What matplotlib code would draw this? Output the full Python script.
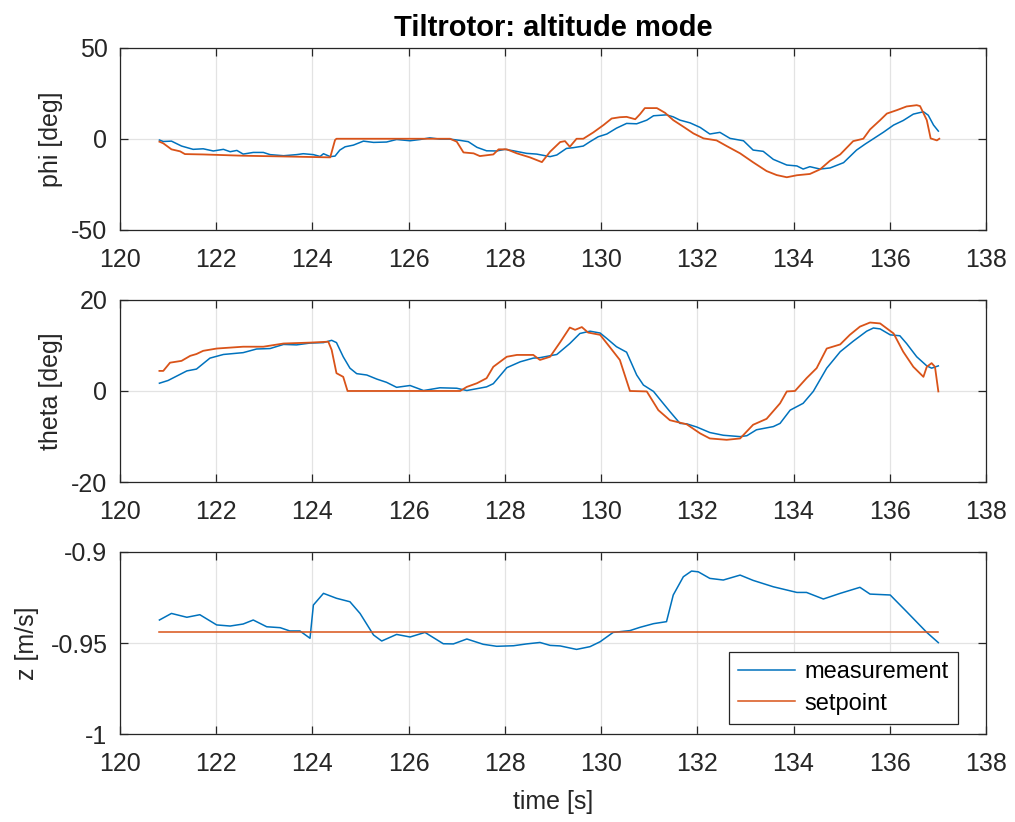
import numpy as np
import matplotlib
matplotlib.use("Agg")
import matplotlib.pyplot as plt

plt.rcParams['font.family'] = ['Liberation Sans', 'DejaVu Sans']
plt.rcParams['axes.unicode_minus'] = False

# roll angle
t_phi_meas = [120.82, 120.90, 121.07, 121.28, 121.52, 121.73, 121.94, 122.15, 122.29, 122.43,
              122.56, 122.77, 122.98, 123.12, 123.40, 123.67, 123.81, 124.02, 124.16, 124.23,
              124.37, 124.47, 124.57, 124.68, 124.85, 125.06, 125.27, 125.54, 125.75, 126.03,
              126.24, 126.44, 126.65, 126.86, 127.07, 127.24, 127.42, 127.62, 127.83, 128.00,
              128.18, 128.45, 128.66, 128.80, 128.94, 129.08, 129.28, 129.42, 129.63, 129.77,
              129.94, 130.12, 130.32, 130.53, 130.74, 130.95, 131.09, 131.36, 131.50, 131.64,
              131.85, 132.06, 132.26, 132.47, 132.68, 132.96, 133.16, 133.37, 133.58, 133.86,
              134.07, 134.20, 134.34, 134.55, 134.76, 135.04, 135.31, 135.49, 135.66, 135.87,
              136.08, 136.28, 136.49, 136.70, 136.80, 136.91, 137.01]
phi_meas = [-0.7, -1.5, -1.3, -4.0, -5.8, -5.5, -6.7, -5.8, -7.1, -6.4,
            -8.4, -7.5, -7.5, -8.7, -9.3, -8.7, -8.2, -8.7, -9.7, -8.2,
            -9.8, -9.5, -6.2, -4.4, -3.5, -1.3, -2.0, -1.8, -0.4, -1.1,
            -0.4, 0.5, -0.2, -0.2, -0.9, -1.6, -4.7, -6.6, -6.7, -5.8,
            -6.6, -8.0, -8.4, -9.1, -9.8, -8.9, -5.3, -4.9, -4.0, -1.6,
            1.1, 2.6, 5.8, 8.4, 8.2, 10.2, 12.6, 13.1, 12.0, 10.2,
            8.7, 6.2, 2.6, 3.5, 0.2, -1.1, -6.2, -6.9, -11.3, -14.4,
            -14.9, -16.6, -15.3, -16.6, -16.0, -13.1, -6.2, -2.9, 0.0, 3.6,
            7.5, 10.0, 13.5, 14.8, 12.9, 7.5, 4.2]
t_phi_sp = [120.82, 120.90, 121.07, 121.25, 121.35, 121.73, 122.56, 123.60, 124.37, 124.47,
            124.50, 126.86, 127.00, 127.14, 127.35, 127.48, 127.76, 127.87, 128.04, 128.25,
            128.52, 128.77, 128.94, 129.15, 129.25, 129.35, 129.49, 129.63, 129.84, 130.05,
            130.22, 130.39, 130.53, 130.71, 130.81, 130.91, 131.16, 131.33, 131.50, 131.71,
            131.92, 132.13, 132.40, 132.61, 132.89, 133.16, 133.44, 133.65, 133.86, 134.07,
            134.34, 134.55, 134.76, 134.97, 135.24, 135.45, 135.59, 135.80, 135.94, 136.15,
            136.35, 136.56, 136.63, 136.77, 136.85, 136.98, 137.03]
phi_sp = [-1.6, -2.5, -5.8, -6.9, -8.4, -8.6, -9.3, -9.8, -10.2, -0.7,
          0.0, 0.0, -1.6, -7.5, -8.0, -9.5, -8.6, -5.8, -5.8, -8.0,
          -10.2, -12.8, -7.1, -1.8, -1.3, -4.4, 0.0, 0.0, 3.5, 7.5,
          11.1, 11.8, 12.0, 10.7, 13.5, 16.8, 16.8, 14.2, 10.2, 6.6,
          2.9, 0.2, -0.9, -4.0, -8.0, -12.9, -17.7, -19.9, -21.1, -20.0,
          -19.3, -16.8, -12.0, -8.6, -1.3, 0.0, 5.1, 10.2, 13.8, 15.7,
          17.7, 18.4, 17.9, 10.2, 0.2, -0.9, 0.0]

# pitch angle
t_theta_meas = [120.82, 121.00, 121.39, 121.59, 121.87, 122.15, 122.56, 122.84, 123.12, 123.40,
                123.67, 123.95, 124.23, 124.40, 124.50, 124.64, 124.78, 124.92, 125.13, 125.34,
                125.54, 125.75, 126.03, 126.31, 126.65, 127.00, 127.21, 127.62, 127.76, 128.04,
                128.32, 128.59, 128.73, 129.08, 129.35, 129.56, 129.77, 129.98, 130.12, 130.32,
                130.53, 130.74, 130.88, 131.09, 131.22, 131.43, 131.64, 131.78, 131.99, 132.26,
                132.54, 132.89, 133.03, 133.23, 133.58, 133.72, 133.93, 134.20, 134.41, 134.69,
                134.97, 135.24, 135.52, 135.66, 135.80, 136.01, 136.21, 136.35, 136.56, 136.77,
                136.87, 137.01]
theta_meas = [1.7, 2.3, 4.4, 4.8, 7.2, 8.0, 8.4, 9.2, 9.3, 10.2,
              10.1, 10.5, 10.6, 11.1, 10.6, 7.5, 5.0, 3.8, 3.5, 2.6,
              1.9, 0.8, 1.2, 0.1, 0.7, 0.6, 0.1, 0.9, 1.6, 5.1,
              6.4, 7.2, 7.3, 8.0, 10.4, 12.6, 13.1, 12.7, 11.5, 9.7,
              8.5, 3.5, 1.3, -0.1, -1.8, -4.5, -7.1, -7.2, -7.9, -9.1,
              -9.7, -10.0, -9.8, -8.5, -7.8, -7.1, -4.2, -2.7, -0.1, 5.0,
              8.6, 10.9, 13.1, 13.8, 13.6, 12.3, 12.1, 10.4, 7.5, 5.5,
              5.0, 5.5]
t_theta_sp = [120.82, 120.90, 121.04, 121.28, 121.46, 121.59, 121.73, 122.01, 122.56, 122.98,
              123.40, 123.95, 124.33, 124.40, 124.50, 124.64, 124.73, 127.07, 127.21, 127.42,
              127.62, 127.76, 128.04, 128.25, 128.59, 128.73, 128.94, 129.15, 129.35, 129.46,
              129.60, 129.73, 129.98, 130.19, 130.39, 130.60, 130.95, 131.19, 131.43, 131.78,
              132.06, 132.26, 132.61, 132.89, 133.16, 133.44, 133.72, 133.86, 134.03, 134.27,
              134.48, 134.69, 134.97, 135.17, 135.38, 135.59, 135.80, 136.08, 136.28, 136.49,
              136.70, 136.77, 136.87, 136.94, 137.01]
theta_sp = [4.4, 4.4, 6.2, 6.6, 7.7, 8.1, 8.8, 9.3, 9.7, 9.7,
            10.4, 10.6, 10.8, 9.0, 3.9, 3.1, 0.0, 0.0, 0.9, 1.7,
            2.8, 5.3, 7.5, 7.9, 7.9, 6.8, 7.5, 10.7, 13.9, 13.4,
            14.0, 12.8, 12.3, 9.5, 6.8, 0.0, -0.1, -4.2, -6.4, -7.3,
            -9.3, -10.4, -10.7, -10.4, -7.4, -6.1, -2.7, -0.1, 0.0, 2.8,
            5.0, 9.3, 10.2, 12.3, 14.1, 15.0, 14.8, 12.6, 8.6, 5.3,
            3.1, 5.3, 6.1, 5.3, -0.1]

# altitude
t_z_meas = [120.82, 121.07, 121.39, 121.66, 122.01, 122.29, 122.56, 122.77, 123.05, 123.33,
            123.53, 123.74, 123.95, 124.02, 124.23, 124.50, 124.78, 124.99, 125.27, 125.44,
            125.75, 126.03, 126.34, 126.72, 126.93, 127.21, 127.55, 127.83, 128.18, 128.45,
            128.73, 128.94, 129.15, 129.49, 129.77, 129.98, 130.25, 130.60, 130.81, 131.09,
            131.36, 131.50, 131.71, 131.88, 132.02, 132.26, 132.54, 132.89, 133.16, 133.58,
            134.07, 134.27, 134.62, 134.97, 135.38, 135.59, 136.01, 136.35, 136.77, 137.01]
z_meas = [-0.9374, -0.9338, -0.9359, -0.9345, -0.9401, -0.9407, -0.9396, -0.9374, -0.9411, -0.9416,
          -0.9434, -0.9434, -0.9474, -0.9292, -0.9228, -0.9255, -0.9274, -0.9338, -0.9456, -0.9489,
          -0.9453, -0.9467, -0.9442, -0.9504, -0.9505, -0.9478, -0.9507, -0.9518, -0.9515, -0.9505,
          -0.9497, -0.9513, -0.9516, -0.9535, -0.9520, -0.9493, -0.9442, -0.9432, -0.9414, -0.9394,
          -0.9383, -0.9237, -0.9137, -0.9106, -0.9110, -0.9146, -0.9155, -0.9128, -0.9157, -0.9192,
          -0.9223, -0.9223, -0.9259, -0.9228, -0.9195, -0.9232, -0.9237, -0.9328, -0.9442, -0.9498]
t_z_sp = [120.82, 137.01]
z_sp = [-0.944, -0.944]

xticks = [120, 122, 124, 126, 128, 130, 132, 134, 136, 138]
phi_ticks = [-50, 0, 50]
theta_ticks = [-20, 0, 20]
z_ticks = [-1, -0.95, -0.9]
z_ticklabels = ['-1', '-0.95', '-0.9']

blue = '#0072BD'
red = '#D95319'
axcol = '#262626'

fig = plt.figure(figsize=(10.15, 8.22), dpi=100)
ax1 = fig.add_axes([0.1182, 0.7202, 0.8532, 0.2220])
ax2 = fig.add_axes([0.1182, 0.4133, 0.8532, 0.2221])
ax3 = fig.add_axes([0.1182, 0.1067, 0.8532, 0.2221])

ax1.plot(t_phi_meas, phi_meas, color=blue, lw=1.1)
ax1.plot(t_phi_sp, phi_sp, color=red, lw=1.3)
ax2.plot(t_theta_meas, theta_meas, color=blue, lw=1.1)
ax2.plot(t_theta_sp, theta_sp, color=red, lw=1.3)
ax3.plot(t_z_meas, z_meas, color=blue, lw=1.1, label='measurement')
ax3.plot(t_z_sp, z_sp, color=red, lw=1.1, label='setpoint')

for ax in (ax1, ax2, ax3):
    ax.set_xlim(120, 138)
    ax.set_xticks(xticks)
    ax.grid(True, color='#e3e3e3', lw=0.9)
    ax.set_axisbelow(True)
    ax.tick_params(direction='in', length=6, width=0.9, colors=axcol,
                   labelsize=18, top=True, right=True, pad=9)
    ax.tick_params(axis='x', pad=13)
    for s in ax.spines.values():
        s.set_color(axcol)
        s.set_linewidth(0.9)

ax1.set_ylim(-50, 50)
ax1.set_yticks(phi_ticks)
ax2.set_ylim(-20, 20)
ax2.set_yticks(theta_ticks)
ax3.set_ylim(-1, -0.9)
ax3.set_yticks(z_ticks)
ax3.set_yticklabels(z_ticklabels)

ax1.set_ylabel('phi [deg]', fontsize=18, color=axcol)
ax2.set_ylabel('theta [deg]', fontsize=18, color=axcol)
ax3.set_ylabel('z [m/s]', fontsize=18, color=axcol)
ax1.yaxis.set_label_coords(-0.066, 0.5)
ax2.yaxis.set_label_coords(-0.066, 0.5)
ax3.yaxis.set_label_coords(-0.093, 0.5)
ax3.set_xlabel('time [s]', fontsize=18, color=axcol, labelpad=10)

ax1.set_title('Tiltrotor: altitude mode', fontsize=21, fontweight='bold', pad=8)

leg = ax3.legend(loc='lower right', bbox_to_anchor=(0.968, 0.056), fontsize=17,
                 fancybox=False, framealpha=1, edgecolor='#262626', borderaxespad=0,
                 handlelength=2.4, borderpad=0.4, labelspacing=0.4, handletextpad=0.4)
leg.get_frame().set_linewidth(0.9)

fig.savefig('out.png', dpi=100)
